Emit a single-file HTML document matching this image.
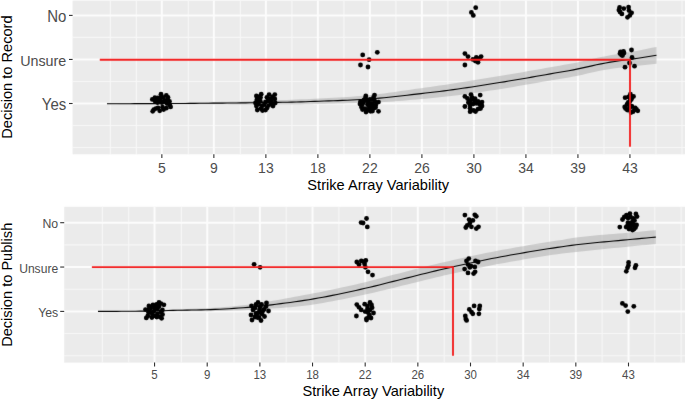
<!DOCTYPE html>
<html><head><meta charset="utf-8"><title>Decision plots</title>
<style>
html,body{margin:0;padding:0;background:#fff;}
body{width:685px;height:400px;overflow:hidden;}
svg{display:block;font-family:"Liberation Sans",sans-serif;}
</style></head><body>
<svg width="685" height="400" viewBox="0 0 685 400">
<defs><filter id="soft" x="0" y="0" width="685" height="400" filterUnits="userSpaceOnUse" color-interpolation-filters="sRGB"><feConvolveMatrix order="3" kernelMatrix="0.00524 0.06192 0.00524 0.06192 0.73137 0.06192 0.00524 0.06192 0.00524" edgeMode="duplicate" preserveAlpha="false"/></filter></defs>
<rect width="685" height="400" fill="#fff"/>
<g filter="url(#soft)">
<rect x="72.6" y="0.6" width="613.4" height="153.7" fill="#EBEBEB"/>
<line x1="110.34" y1="0.6" x2="110.34" y2="154.3" stroke="#F7F7F7" stroke-width="1.1"/>
<line x1="681.95" y1="0.6" x2="681.95" y2="154.3" stroke="#F7F7F7" stroke-width="1.1"/>
<line x1="136.34" y1="0.6" x2="136.34" y2="154.3" stroke="#F7F7F7" stroke-width="1.1"/>
<line x1="188.35" y1="0.6" x2="188.35" y2="154.3" stroke="#F7F7F7" stroke-width="1.1"/>
<line x1="240.37" y1="0.6" x2="240.37" y2="154.3" stroke="#F7F7F7" stroke-width="1.1"/>
<line x1="291.88" y1="0.6" x2="291.88" y2="154.3" stroke="#F7F7F7" stroke-width="1.1"/>
<line x1="343.88" y1="0.6" x2="343.88" y2="154.3" stroke="#F7F7F7" stroke-width="1.1"/>
<line x1="395.89" y1="0.6" x2="395.89" y2="154.3" stroke="#F7F7F7" stroke-width="1.1"/>
<line x1="447.9" y1="0.6" x2="447.9" y2="154.3" stroke="#F7F7F7" stroke-width="1.1"/>
<line x1="499.91" y1="0.6" x2="499.91" y2="154.3" stroke="#F7F7F7" stroke-width="1.1"/>
<line x1="551.92" y1="0.6" x2="551.92" y2="154.3" stroke="#F7F7F7" stroke-width="1.1"/>
<line x1="603.93" y1="0.6" x2="603.93" y2="154.3" stroke="#F7F7F7" stroke-width="1.1"/>
<line x1="655.94" y1="0.6" x2="655.94" y2="154.3" stroke="#F7F7F7" stroke-width="1.1"/>
<line x1="72.6" y1="37.42" x2="686" y2="37.42" stroke="#F7F7F7" stroke-width="1.1"/>
<line x1="72.6" y1="81.47" x2="686" y2="81.47" stroke="#F7F7F7" stroke-width="1.1"/>
<line x1="72.6" y1="125.53" x2="686" y2="125.53" stroke="#F7F7F7" stroke-width="1.1"/>
<line x1="72.6" y1="147.55" x2="686" y2="147.55" stroke="#F7F7F7" stroke-width="1.1"/>
<line x1="161.85" y1="0.6" x2="161.85" y2="154.3" stroke="#FCFCFC" stroke-width="2"/>
<line x1="213.86" y1="0.6" x2="213.86" y2="154.3" stroke="#FCFCFC" stroke-width="2"/>
<line x1="265.87" y1="0.6" x2="265.87" y2="154.3" stroke="#FCFCFC" stroke-width="2"/>
<line x1="317.88" y1="0.6" x2="317.88" y2="154.3" stroke="#FCFCFC" stroke-width="2"/>
<line x1="369.89" y1="0.6" x2="369.89" y2="154.3" stroke="#FCFCFC" stroke-width="2"/>
<line x1="421.9" y1="0.6" x2="421.9" y2="154.3" stroke="#FCFCFC" stroke-width="2"/>
<line x1="473.91" y1="0.6" x2="473.91" y2="154.3" stroke="#FCFCFC" stroke-width="2"/>
<line x1="525.92" y1="0.6" x2="525.92" y2="154.3" stroke="#FCFCFC" stroke-width="2"/>
<line x1="577.93" y1="0.6" x2="577.93" y2="154.3" stroke="#FCFCFC" stroke-width="2"/>
<line x1="629.94" y1="0.6" x2="629.94" y2="154.3" stroke="#FCFCFC" stroke-width="2"/>
<line x1="72.6" y1="15.4" x2="686" y2="15.4" stroke="#FCFCFC" stroke-width="2"/>
<line x1="72.6" y1="59.45" x2="686" y2="59.45" stroke="#FCFCFC" stroke-width="2"/>
<line x1="72.6" y1="103.5" x2="686" y2="103.5" stroke="#FCFCFC" stroke-width="2"/>
<path d="M107,103.3 L111.62,103.29 L116.24,103.27 L120.85,103.25 L125.47,103.23 L130.09,103.2 L134.71,103.17 L139.32,103.13 L143.94,103.09 L148.56,103.05 L153.18,103 L157.79,102.96 L162.41,102.91 L167.03,102.85 L171.65,102.8 L176.26,102.75 L180.88,102.69 L185.5,102.61 L190.12,102.52 L194.74,102.42 L199.35,102.31 L203.97,102.22 L208.59,102.12 L213.21,102.02 L217.82,101.92 L222.44,101.82 L227.06,101.72 L231.68,101.61 L236.29,101.49 L240.91,101.38 L245.53,101.25 L250.15,101.12 L254.76,100.98 L259.38,100.84 L264,100.69 L268.62,100.55 L273.24,100.39 L277.85,100.24 L282.47,100.07 L287.09,99.91 L291.71,99.73 L296.32,99.55 L300.94,99.36 L305.56,99.14 L310.18,98.91 L314.79,98.67 L319.41,98.43 L324.03,98.21 L328.65,98.01 L333.26,97.8 L337.88,97.59 L342.5,97.35 L347.12,97.06 L351.74,96.72 L356.35,96.33 L360.97,95.91 L365.59,95.47 L370.21,94.99 L374.82,94.49 L379.44,93.96 L384.06,93.41 L388.68,92.81 L393.29,92.18 L397.91,91.52 L402.53,90.85 L407.15,90.16 L411.76,89.48 L416.38,88.81 L421,88.16 L425.62,87.52 L430.24,86.88 L434.85,86.23 L439.47,85.58 L444.09,84.9 L448.71,84.21 L453.32,83.5 L457.94,82.77 L462.56,82.03 L467.18,81.28 L471.79,80.52 L476.41,79.76 L481.03,78.99 L485.65,78.23 L490.26,77.47 L494.88,76.72 L499.5,75.98 L504.12,75.24 L508.74,74.48 L513.35,73.71 L517.97,72.92 L522.59,72.13 L527.21,71.32 L531.82,70.52 L536.44,69.71 L541.06,68.89 L545.68,68.08 L550.29,67.28 L554.91,66.47 L559.53,65.68 L564.15,64.87 L568.76,64.03 L573.38,63.14 L578,62.18 L582.62,61.17 L587.24,60.13 L591.85,59.09 L596.47,58.06 L601.09,57.08 L605.71,56.17 L610.32,55.35 L614.94,54.59 L619.56,53.84 L624.18,53.09 L628.79,52.31 L633.41,51.49 L638.03,50.63 L642.65,49.74 L647.26,48.82 L651.88,47.87 L656.5,46.9 L656.5,63.7 L651.88,64.22 L647.26,64.74 L642.65,65.26 L638.03,65.78 L633.41,66.31 L628.79,66.84 L624.18,67.32 L619.56,67.79 L614.94,68.31 L610.32,68.95 L605.71,69.73 L601.09,70.62 L596.47,71.58 L591.85,72.59 L587.24,73.62 L582.62,74.64 L578,75.64 L573.38,76.57 L568.76,77.41 L564.15,78.14 L559.53,78.88 L554.91,79.67 L550.29,80.48 L545.68,81.28 L541.06,82.09 L536.44,82.91 L531.82,83.72 L527.21,84.52 L522.59,85.33 L517.97,86.12 L513.35,86.91 L508.74,87.68 L504.12,88.44 L499.5,89.18 L494.88,89.91 L490.26,90.62 L485.65,91.32 L481.03,92 L476.41,92.67 L471.79,93.32 L467.18,93.95 L462.56,94.57 L457.94,95.17 L453.32,95.75 L448.71,96.3 L444.09,96.84 L439.47,97.36 L434.85,97.82 L430.24,98.24 L425.62,98.63 L421,99.01 L416.38,99.42 L411.76,99.83 L407.15,100.24 L402.53,100.65 L397.91,101.05 L393.29,101.43 L388.68,101.77 L384.06,102.07 L379.44,102.33 L374.82,102.53 L370.21,102.7 L365.59,102.84 L360.97,102.97 L356.35,103.1 L351.74,103.23 L347.12,103.34 L342.5,103.47 L337.88,103.58 L333.26,103.7 L328.65,103.8 L324.03,103.91 L319.41,104.01 L314.79,104.12 L310.18,104.23 L305.56,104.32 L300.94,104.39 L296.32,104.43 L291.71,104.46 L287.09,104.48 L282.47,104.5 L277.85,104.5 L273.24,104.5 L268.62,104.5 L264,104.49 L259.38,104.48 L254.76,104.46 L250.15,104.44 L245.53,104.42 L240.91,104.4 L236.29,104.39 L231.68,104.38 L227.06,104.36 L222.44,104.35 L217.82,104.33 L213.21,104.32 L208.59,104.31 L203.97,104.3 L199.35,104.3 L194.74,104.3 L190.12,104.3 L185.5,104.31 L180.88,104.3 L176.26,104.29 L171.65,104.28 L167.03,104.26 L162.41,104.25 L157.79,104.24 L153.18,104.22 L148.56,104.21 L143.94,104.19 L139.32,104.18 L134.71,104.17 L130.09,104.15 L125.47,104.14 L120.85,104.13 L116.24,104.12 L111.62,104.11 L107,104.1 Z" fill="#999999" fill-opacity="0.4"/>
<path d="M107,103.7 L111.62,103.7 L116.24,103.7 L120.85,103.69 L125.47,103.68 L130.09,103.68 L134.71,103.67 L139.32,103.66 L143.94,103.64 L148.56,103.63 L153.18,103.61 L157.79,103.6 L162.41,103.58 L167.03,103.56 L171.65,103.54 L176.26,103.52 L180.88,103.5 L185.5,103.46 L190.12,103.41 L194.74,103.36 L199.35,103.31 L203.97,103.26 L208.59,103.22 L213.21,103.17 L217.82,103.13 L222.44,103.08 L227.06,103.04 L231.68,102.99 L236.29,102.94 L240.91,102.89 L245.53,102.84 L250.15,102.78 L254.76,102.72 L259.38,102.66 L264,102.59 L268.62,102.52 L273.24,102.45 L277.85,102.37 L282.47,102.29 L287.09,102.2 L291.71,102.1 L296.32,101.99 L300.94,101.87 L305.56,101.73 L310.18,101.57 L314.79,101.39 L319.41,101.22 L324.03,101.06 L328.65,100.91 L333.26,100.75 L337.88,100.59 L342.5,100.41 L347.12,100.2 L351.74,99.97 L356.35,99.72 L360.97,99.44 L365.59,99.15 L370.21,98.84 L374.82,98.51 L379.44,98.15 L384.06,97.74 L388.68,97.29 L393.29,96.8 L397.91,96.29 L402.53,95.75 L407.15,95.2 L411.76,94.66 L416.38,94.11 L421,93.59 L425.62,93.07 L430.24,92.56 L434.85,92.03 L439.47,91.47 L444.09,90.87 L448.71,90.26 L453.32,89.62 L457.94,88.97 L462.56,88.3 L467.18,87.62 L471.79,86.92 L476.41,86.21 L481.03,85.5 L485.65,84.77 L490.26,84.05 L494.88,83.31 L499.5,82.58 L504.12,81.84 L508.74,81.08 L513.35,80.31 L517.97,79.52 L522.59,78.73 L527.21,77.92 L531.82,77.12 L536.44,76.31 L541.06,75.49 L545.68,74.68 L550.29,73.88 L554.91,73.07 L559.53,72.28 L564.15,71.51 L568.76,70.72 L573.38,69.86 L578,68.91 L582.62,67.91 L587.24,66.87 L591.85,65.84 L596.47,64.82 L601.09,63.85 L605.71,62.95 L610.32,62.15 L614.94,61.45 L619.56,60.82 L624.18,60.21 L628.79,59.57 L633.41,58.9 L638.03,58.2 L642.65,57.5 L647.26,56.78 L651.88,56.05 L656.5,55.3" fill="none" stroke="#000" stroke-width="1.1"/>
<circle cx="152.3" cy="99.4" r="2.4"/>
<circle cx="154.9" cy="97.7" r="2.4"/>
<circle cx="161" cy="94.2" r="2.4"/>
<circle cx="166.3" cy="95.5" r="2.4"/>
<circle cx="160.1" cy="98.1" r="2.4"/>
<circle cx="168" cy="100.8" r="2.4"/>
<circle cx="169.8" cy="105.1" r="2.4"/>
<circle cx="170.6" cy="106.9" r="2.4"/>
<circle cx="152.7" cy="111.3" r="2.4"/>
<circle cx="155.8" cy="108.6" r="2.4"/>
<circle cx="159.7" cy="110.8" r="2.4"/>
<circle cx="163.6" cy="109.5" r="2.4"/>
<circle cx="166.3" cy="108.2" r="2.4"/>
<circle cx="161.9" cy="102.5" r="2.4"/>
<circle cx="165.4" cy="101.6" r="2.4"/>
<circle cx="157.5" cy="100.8" r="2.4"/>
<circle cx="163" cy="97.5" r="2.4"/>
<circle cx="165" cy="100.5" r="2.4"/>
<circle cx="161" cy="101.5" r="2.4"/>
<circle cx="168" cy="97.5" r="2.4"/>
<circle cx="158" cy="98" r="2.4"/>
<circle cx="157.5" cy="102.5" r="2.4"/>
<circle cx="169.5" cy="101.5" r="2.4"/>
<circle cx="167" cy="103.5" r="2.4"/>
<circle cx="155" cy="101" r="2.4"/>
<circle cx="158" cy="107.8" r="2.4"/>
<circle cx="162.5" cy="107.2" r="2.4"/>
<circle cx="153.8" cy="109.6" r="2.4"/>
<circle cx="256.4" cy="96" r="2.4"/>
<circle cx="261.2" cy="94.2" r="2.4"/>
<circle cx="256.8" cy="99.9" r="2.4"/>
<circle cx="260.3" cy="101.2" r="2.4"/>
<circle cx="256.4" cy="106" r="2.4"/>
<circle cx="257.3" cy="110" r="2.4"/>
<circle cx="260.8" cy="108.6" r="2.4"/>
<circle cx="264.3" cy="104.7" r="2.4"/>
<circle cx="266.9" cy="108.2" r="2.4"/>
<circle cx="269.1" cy="94.6" r="2.4"/>
<circle cx="266.9" cy="97.3" r="2.4"/>
<circle cx="270.4" cy="99" r="2.4"/>
<circle cx="274.8" cy="94.6" r="2.4"/>
<circle cx="274.8" cy="99" r="2.4"/>
<circle cx="275.2" cy="103" r="2.4"/>
<circle cx="271.3" cy="103.8" r="2.4"/>
<circle cx="268.6" cy="105.6" r="2.4"/>
<circle cx="271.3" cy="101.2" r="2.4"/>
<circle cx="258.5" cy="97" r="2.4"/>
<circle cx="258.5" cy="104" r="2.4"/>
<circle cx="262" cy="106" r="2.4"/>
<circle cx="265.5" cy="102" r="2.4"/>
<circle cx="268" cy="101" r="2.4"/>
<circle cx="272.5" cy="97" r="2.4"/>
<circle cx="273" cy="106" r="2.4"/>
<circle cx="265.5" cy="110" r="2.4"/>
<circle cx="262.5" cy="110.5" r="2.4"/>
<circle cx="255.5" cy="103" r="2.4"/>
<circle cx="260.5" cy="97.5" r="2.4"/>
<circle cx="365.8" cy="95.9" r="2.4"/>
<circle cx="374.5" cy="95.1" r="2.4"/>
<circle cx="360.5" cy="101.6" r="2.4"/>
<circle cx="364" cy="99.9" r="2.4"/>
<circle cx="373.6" cy="99.4" r="2.4"/>
<circle cx="378.5" cy="102.1" r="2.4"/>
<circle cx="361.4" cy="106.9" r="2.4"/>
<circle cx="364.9" cy="108.6" r="2.4"/>
<circle cx="368.8" cy="106" r="2.4"/>
<circle cx="370.6" cy="111.3" r="2.4"/>
<circle cx="373.6" cy="108.2" r="2.4"/>
<circle cx="375.8" cy="105.1" r="2.4"/>
<circle cx="378.5" cy="111.3" r="2.4"/>
<circle cx="368.4" cy="102.5" r="2.4"/>
<circle cx="371.9" cy="103.4" r="2.4"/>
<circle cx="362.3" cy="104.7" r="2.4"/>
<circle cx="367.5" cy="110.4" r="2.4"/>
<circle cx="366" cy="100" r="2.4"/>
<circle cx="370" cy="99.5" r="2.4"/>
<circle cx="363.5" cy="102.5" r="2.4"/>
<circle cx="367.5" cy="104.5" r="2.4"/>
<circle cx="372" cy="106" r="2.4"/>
<circle cx="369.5" cy="108.5" r="2.4"/>
<circle cx="375" cy="101.5" r="2.4"/>
<circle cx="375.5" cy="107.5" r="2.4"/>
<circle cx="360" cy="104" r="2.4"/>
<circle cx="362.5" cy="109.5" r="2.4"/>
<circle cx="366" cy="112" r="2.4"/>
<circle cx="372.5" cy="111" r="2.4"/>
<circle cx="373.5" cy="97.5" r="2.4"/>
<circle cx="365.5" cy="98" r="2.4"/>
<circle cx="362.7" cy="54.9" r="2.4"/>
<circle cx="377.3" cy="52.3" r="2.4"/>
<circle cx="369.1" cy="59.7" r="2.4"/>
<circle cx="360.5" cy="65" r="2.4"/>
<circle cx="368" cy="67" r="2.4"/>
<circle cx="464.9" cy="96.4" r="2.4"/>
<circle cx="471" cy="94.6" r="2.4"/>
<circle cx="480.2" cy="95.1" r="2.4"/>
<circle cx="475" cy="98.6" r="2.4"/>
<circle cx="469.7" cy="101.2" r="2.4"/>
<circle cx="472.3" cy="99.4" r="2.4"/>
<circle cx="482" cy="102.1" r="2.4"/>
<circle cx="476.3" cy="103.4" r="2.4"/>
<circle cx="464.9" cy="106.5" r="2.4"/>
<circle cx="470.1" cy="108.2" r="2.4"/>
<circle cx="470.1" cy="111.7" r="2.4"/>
<circle cx="473.6" cy="110.4" r="2.4"/>
<circle cx="478" cy="109.1" r="2.4"/>
<circle cx="482" cy="106" r="2.4"/>
<circle cx="479.8" cy="104.7" r="2.4"/>
<circle cx="468.4" cy="102.5" r="2.4"/>
<circle cx="467.5" cy="98.5" r="2.4"/>
<circle cx="472" cy="97.5" r="2.4"/>
<circle cx="475" cy="101.5" r="2.4"/>
<circle cx="478" cy="101.5" r="2.4"/>
<circle cx="473" cy="104" r="2.4"/>
<circle cx="470" cy="105" r="2.4"/>
<circle cx="480.5" cy="108.5" r="2.4"/>
<circle cx="475.5" cy="111.5" r="2.4"/>
<circle cx="464.9" cy="53.6" r="2.4"/>
<circle cx="468" cy="56.6" r="2.4"/>
<circle cx="464.9" cy="65" r="2.4"/>
<circle cx="472.9" cy="59.4" r="2.4"/>
<circle cx="476.3" cy="57.5" r="2.4"/>
<circle cx="481.1" cy="56.6" r="2.4"/>
<circle cx="478" cy="62.3" r="2.4"/>
<circle cx="475.4" cy="61" r="2.4"/>
<circle cx="479.3" cy="58.4" r="2.4"/>
<circle cx="475.7" cy="7.7" r="2.4"/>
<circle cx="471.4" cy="12.4" r="2.4"/>
<circle cx="473.3" cy="15.4" r="2.4"/>
<circle cx="625.1" cy="97.7" r="2.4"/>
<circle cx="630.4" cy="94.2" r="2.4"/>
<circle cx="633.5" cy="96.4" r="2.4"/>
<circle cx="631.3" cy="99.4" r="2.4"/>
<circle cx="628.2" cy="102.5" r="2.4"/>
<circle cx="624.7" cy="106.9" r="2.4"/>
<circle cx="627.3" cy="110" r="2.4"/>
<circle cx="635.2" cy="107.8" r="2.4"/>
<circle cx="633" cy="111.7" r="2.4"/>
<circle cx="637.8" cy="110.8" r="2.4"/>
<circle cx="630.4" cy="105.6" r="2.4"/>
<circle cx="632" cy="97.5" r="2.4"/>
<circle cx="630" cy="101" r="2.4"/>
<circle cx="627" cy="104.5" r="2.4"/>
<circle cx="629.5" cy="108" r="2.4"/>
<circle cx="632" cy="106.5" r="2.4"/>
<circle cx="634.5" cy="110" r="2.4"/>
<circle cx="625.5" cy="108.5" r="2.4"/>
<circle cx="636.5" cy="109.5" r="2.4"/>
<circle cx="631" cy="112.5" r="2.4"/>
<circle cx="628.5" cy="97" r="2.4"/>
<circle cx="622" cy="53" r="2.4"/>
<circle cx="620" cy="53.5" r="2.4"/>
<circle cx="624" cy="53" r="2.4"/>
<circle cx="631.5" cy="50" r="2.4"/>
<circle cx="632" cy="57.5" r="2.4"/>
<circle cx="629.5" cy="63" r="2.4"/>
<circle cx="625" cy="67.2" r="2.4"/>
<circle cx="634.5" cy="66.2" r="2.4"/>
<circle cx="621.5" cy="55" r="2.4"/>
<circle cx="622.5" cy="55.5" r="2.4"/>
<circle cx="620.5" cy="51.8" r="2.4"/>
<circle cx="623.5" cy="51.5" r="2.4"/>
<circle cx="619.6" cy="7.4" r="2.4"/>
<circle cx="618.9" cy="10.1" r="2.4"/>
<circle cx="621.9" cy="13.9" r="2.4"/>
<circle cx="623.8" cy="8.6" r="2.4"/>
<circle cx="628.6" cy="7.1" r="2.4"/>
<circle cx="629" cy="10.5" r="2.4"/>
<circle cx="631.6" cy="12.8" r="2.4"/>
<circle cx="627.5" cy="17.3" r="2.4"/>
<circle cx="629.8" cy="15.4" r="2.4"/>
<circle cx="620" cy="12" r="2.4"/>
<polyline points="99.8,59.7 630,59.7 630,146.8" fill="none" stroke="#F21C1C" stroke-width="1.85"/>
</g>
<line x1="161.85" y1="154.3" x2="161.85" y2="158.1" stroke="#333" stroke-width="1.1"/>
<line x1="213.86" y1="154.3" x2="213.86" y2="158.1" stroke="#333" stroke-width="1.1"/>
<line x1="265.87" y1="154.3" x2="265.87" y2="158.1" stroke="#333" stroke-width="1.1"/>
<line x1="317.88" y1="154.3" x2="317.88" y2="158.1" stroke="#333" stroke-width="1.1"/>
<line x1="369.89" y1="154.3" x2="369.89" y2="158.1" stroke="#333" stroke-width="1.1"/>
<line x1="421.9" y1="154.3" x2="421.9" y2="158.1" stroke="#333" stroke-width="1.1"/>
<line x1="473.91" y1="154.3" x2="473.91" y2="158.1" stroke="#333" stroke-width="1.1"/>
<line x1="525.92" y1="154.3" x2="525.92" y2="158.1" stroke="#333" stroke-width="1.1"/>
<line x1="577.93" y1="154.3" x2="577.93" y2="158.1" stroke="#333" stroke-width="1.1"/>
<line x1="629.94" y1="154.3" x2="629.94" y2="158.1" stroke="#333" stroke-width="1.1"/>
<line x1="69" y1="15.4" x2="72.6" y2="15.4" stroke="#333" stroke-width="1.1"/>
<line x1="69" y1="59.45" x2="72.6" y2="59.45" stroke="#333" stroke-width="1.1"/>
<line x1="69" y1="103.5" x2="72.6" y2="103.5" stroke="#333" stroke-width="1.1"/>
<text transform="translate(161.85,172.9) scale(1,1.065)" font-size="14" fill="#4D4D4D" text-anchor="middle">5</text>
<text transform="translate(213.86,172.9) scale(1,1.065)" font-size="14" fill="#4D4D4D" text-anchor="middle">9</text>
<text transform="translate(265.87,172.9) scale(1,1.065)" font-size="14" fill="#4D4D4D" text-anchor="middle">13</text>
<text transform="translate(317.88,172.9) scale(1,1.065)" font-size="14" fill="#4D4D4D" text-anchor="middle">18</text>
<text transform="translate(369.89,172.9) scale(1,1.065)" font-size="14" fill="#4D4D4D" text-anchor="middle">22</text>
<text transform="translate(421.9,172.9) scale(1,1.065)" font-size="14" fill="#4D4D4D" text-anchor="middle">26</text>
<text transform="translate(473.91,172.9) scale(1,1.065)" font-size="14" fill="#4D4D4D" text-anchor="middle">30</text>
<text transform="translate(525.92,172.9) scale(1,1.065)" font-size="14" fill="#4D4D4D" text-anchor="middle">34</text>
<text transform="translate(577.93,172.9) scale(1,1.065)" font-size="14" fill="#4D4D4D" text-anchor="middle">39</text>
<text transform="translate(629.94,172.9) scale(1,1.065)" font-size="14" fill="#4D4D4D" text-anchor="middle">43</text>
<text transform="translate(66.3,21.8) scale(1,1.06)" font-size="15" fill="#4D4D4D" text-anchor="end">No</text>
<text transform="translate(66.3,65.85) scale(1,1.06)" font-size="14.32" fill="#4D4D4D" text-anchor="end">Unsure</text>
<text transform="translate(66.3,109.9) scale(1,1.06)" font-size="15" fill="#4D4D4D" text-anchor="end">Yes</text>
<text x="378.2" y="189.7" font-size="14.6" fill="#000" text-anchor="middle">Strike Array Variability</text>
<text transform="translate(12.35,77.1) rotate(-90)" x="0" y="0" font-size="14.6" fill="#000" text-anchor="middle">Decision to Record</text>
<g filter="url(#soft)">
<rect x="64.2" y="206.8" width="621.8" height="155.8" fill="#EBEBEB"/>
<line x1="102.39" y1="206.8" x2="102.39" y2="362.6" stroke="#F7F7F7" stroke-width="1.1"/>
<line x1="681.15" y1="206.8" x2="681.15" y2="362.6" stroke="#F7F7F7" stroke-width="1.1"/>
<line x1="128.72" y1="206.8" x2="128.72" y2="362.6" stroke="#F7F7F7" stroke-width="1.1"/>
<line x1="181.38" y1="206.8" x2="181.38" y2="362.6" stroke="#F7F7F7" stroke-width="1.1"/>
<line x1="234.04" y1="206.8" x2="234.04" y2="362.6" stroke="#F7F7F7" stroke-width="1.1"/>
<line x1="286.2" y1="206.8" x2="286.2" y2="362.6" stroke="#F7F7F7" stroke-width="1.1"/>
<line x1="338.86" y1="206.8" x2="338.86" y2="362.6" stroke="#F7F7F7" stroke-width="1.1"/>
<line x1="391.52" y1="206.8" x2="391.52" y2="362.6" stroke="#F7F7F7" stroke-width="1.1"/>
<line x1="444.18" y1="206.8" x2="444.18" y2="362.6" stroke="#F7F7F7" stroke-width="1.1"/>
<line x1="496.84" y1="206.8" x2="496.84" y2="362.6" stroke="#F7F7F7" stroke-width="1.1"/>
<line x1="549.5" y1="206.8" x2="549.5" y2="362.6" stroke="#F7F7F7" stroke-width="1.1"/>
<line x1="602.16" y1="206.8" x2="602.16" y2="362.6" stroke="#F7F7F7" stroke-width="1.1"/>
<line x1="654.82" y1="206.8" x2="654.82" y2="362.6" stroke="#F7F7F7" stroke-width="1.1"/>
<line x1="64.2" y1="244.88" x2="686" y2="244.88" stroke="#F7F7F7" stroke-width="1.1"/>
<line x1="64.2" y1="289.23" x2="686" y2="289.23" stroke="#F7F7F7" stroke-width="1.1"/>
<line x1="64.2" y1="333.57" x2="686" y2="333.57" stroke="#F7F7F7" stroke-width="1.1"/>
<line x1="64.2" y1="355.75" x2="686" y2="355.75" stroke="#F7F7F7" stroke-width="1.1"/>
<line x1="154.55" y1="206.8" x2="154.55" y2="362.6" stroke="#FCFCFC" stroke-width="2"/>
<line x1="207.21" y1="206.8" x2="207.21" y2="362.6" stroke="#FCFCFC" stroke-width="2"/>
<line x1="259.87" y1="206.8" x2="259.87" y2="362.6" stroke="#FCFCFC" stroke-width="2"/>
<line x1="312.53" y1="206.8" x2="312.53" y2="362.6" stroke="#FCFCFC" stroke-width="2"/>
<line x1="365.19" y1="206.8" x2="365.19" y2="362.6" stroke="#FCFCFC" stroke-width="2"/>
<line x1="417.85" y1="206.8" x2="417.85" y2="362.6" stroke="#FCFCFC" stroke-width="2"/>
<line x1="470.51" y1="206.8" x2="470.51" y2="362.6" stroke="#FCFCFC" stroke-width="2"/>
<line x1="523.17" y1="206.8" x2="523.17" y2="362.6" stroke="#FCFCFC" stroke-width="2"/>
<line x1="575.83" y1="206.8" x2="575.83" y2="362.6" stroke="#FCFCFC" stroke-width="2"/>
<line x1="628.49" y1="206.8" x2="628.49" y2="362.6" stroke="#FCFCFC" stroke-width="2"/>
<line x1="64.2" y1="222.7" x2="686" y2="222.7" stroke="#FCFCFC" stroke-width="2"/>
<line x1="64.2" y1="267.05" x2="686" y2="267.05" stroke="#FCFCFC" stroke-width="2"/>
<line x1="64.2" y1="311.4" x2="686" y2="311.4" stroke="#FCFCFC" stroke-width="2"/>
<path d="M98,311.1 L102.69,311.1 L107.37,311.08 L112.06,311.06 L116.75,311.03 L121.44,310.99 L126.12,310.94 L130.81,310.89 L135.5,310.82 L140.19,310.75 L144.87,310.67 L149.56,310.59 L154.25,310.49 L158.94,310.3 L163.62,309.99 L168.31,309.69 L173,309.46 L177.69,309.27 L182.37,309.1 L187.06,308.93 L191.75,308.77 L196.44,308.6 L201.12,308.42 L205.81,308.21 L210.5,307.97 L215.18,307.69 L219.87,307.38 L224.56,307.02 L229.25,306.63 L233.93,306.2 L238.62,305.74 L243.31,305.25 L248,304.73 L252.68,304.16 L257.37,303.46 L262.06,302.68 L266.75,301.86 L271.43,301.06 L276.12,300.24 L280.81,299.41 L285.5,298.55 L290.18,297.68 L294.87,296.81 L299.56,295.93 L304.25,295.06 L308.93,294.19 L313.62,293.33 L318.31,292.44 L322.99,291.52 L327.68,290.57 L332.37,289.6 L337.06,288.6 L341.74,287.57 L346.43,286.53 L351.12,285.46 L355.81,284.38 L360.49,283.28 L365.18,282.16 L369.87,281.03 L374.56,279.85 L379.24,278.59 L383.93,277.3 L388.62,276.05 L393.31,274.86 L397.99,273.66 L402.68,272.46 L407.37,271.26 L412.06,270.06 L416.74,268.86 L421.43,267.68 L426.12,266.5 L430.81,265.34 L435.49,264.2 L440.18,263.08 L444.87,261.97 L449.55,260.9 L454.24,259.85 L458.93,258.8 L463.62,257.76 L468.3,256.74 L472.99,255.73 L477.68,254.74 L482.37,253.77 L487.05,252.81 L491.74,251.88 L496.43,250.97 L501.12,250.09 L505.8,249.23 L510.49,248.38 L515.18,247.54 L519.87,246.72 L524.55,245.9 L529.24,245.11 L533.93,244.32 L538.62,243.55 L543.3,242.79 L547.99,242.05 L552.68,241.32 L557.36,240.6 L562.05,239.88 L566.74,239.08 L571.43,238.27 L576.11,237.51 L580.8,236.91 L585.49,236.4 L590.18,235.93 L594.86,235.49 L599.55,235.08 L604.24,234.68 L608.93,234.3 L613.61,233.92 L618.3,233.53 L622.99,233.14 L627.68,232.73 L632.36,232.31 L637.05,231.89 L641.74,231.46 L646.43,231.04 L651.11,230.62 L655.8,230.2 L655.8,244 L651.11,244.45 L646.43,244.9 L641.74,245.35 L637.05,245.81 L632.36,246.27 L627.68,246.73 L622.99,247.19 L618.3,247.65 L613.61,248.11 L608.93,248.57 L604.24,249.03 L599.55,249.5 L594.86,249.98 L590.18,250.48 L585.49,250.98 L580.8,251.51 L576.11,252.02 L571.43,252.49 L566.74,252.97 L562.05,253.52 L557.36,254.18 L552.68,254.87 L547.99,255.57 L543.3,256.29 L538.62,257.03 L533.93,257.78 L529.24,258.55 L524.55,259.33 L519.87,260.13 L515.18,260.95 L510.49,261.78 L505.8,262.63 L501.12,263.49 L496.43,264.37 L491.74,265.28 L487.05,266.21 L482.37,267.17 L477.68,268.14 L472.99,269.13 L468.3,270.14 L463.62,271.16 L458.93,272.2 L454.24,273.25 L449.55,274.3 L444.87,275.37 L440.18,276.46 L435.49,277.57 L430.81,278.7 L426.12,279.83 L421.43,280.98 L416.74,282.13 L412.06,283.29 L407.37,284.44 L402.68,285.6 L397.99,286.75 L393.31,287.9 L388.62,289.03 L383.93,290.17 L379.24,291.3 L374.56,292.39 L369.87,293.43 L365.18,294.44 L360.49,295.45 L355.81,296.46 L351.12,297.45 L346.43,298.43 L341.74,299.39 L337.06,300.33 L332.37,301.23 L327.68,302.1 L322.99,302.94 L318.31,303.73 L313.62,304.47 L308.93,305.15 L304.25,305.76 L299.56,306.29 L294.87,306.76 L290.18,307.18 L285.5,307.57 L280.81,307.92 L276.12,308.26 L271.43,308.6 L266.75,308.93 L262.06,309.25 L257.37,309.53 L252.68,309.78 L248,309.99 L243.31,310.19 L238.62,310.38 L233.93,310.57 L229.25,310.74 L224.56,310.89 L219.87,311.02 L215.18,311.12 L210.5,311.19 L205.81,311.24 L201.12,311.28 L196.44,311.3 L191.75,311.32 L187.06,311.34 L182.37,311.35 L177.69,311.37 L173,311.38 L168.31,311.41 L163.62,311.44 L158.94,311.47 L154.25,311.5 L149.56,311.53 L144.87,311.55 L140.19,311.58 L135.5,311.6 L130.81,311.62 L126.12,311.64 L121.44,311.66 L116.75,311.67 L112.06,311.68 L107.37,311.69 L102.69,311.7 L98,311.7 Z" fill="#999999" fill-opacity="0.4"/>
<path d="M98,311.4 L102.69,311.4 L107.37,311.39 L112.06,311.37 L116.75,311.35 L121.44,311.32 L126.12,311.29 L130.81,311.25 L135.5,311.21 L140.19,311.16 L144.87,311.11 L149.56,311.06 L154.25,311 L158.94,310.88 L163.62,310.72 L168.31,310.55 L173,310.42 L177.69,310.32 L182.37,310.22 L187.06,310.13 L191.75,310.05 L196.44,309.95 L201.12,309.85 L205.81,309.73 L210.5,309.58 L215.18,309.41 L219.87,309.2 L224.56,308.96 L229.25,308.68 L233.93,308.39 L238.62,308.06 L243.31,307.72 L248,307.36 L252.68,306.97 L257.37,306.49 L262.06,305.96 L266.75,305.4 L271.43,304.83 L276.12,304.25 L280.81,303.66 L285.5,303.06 L290.18,302.43 L294.87,301.79 L299.56,301.11 L304.25,300.41 L308.93,299.67 L313.62,298.9 L318.31,298.08 L322.99,297.23 L327.68,296.34 L332.37,295.41 L337.06,294.46 L341.74,293.48 L346.43,292.48 L351.12,291.46 L355.81,290.42 L360.49,289.36 L365.18,288.3 L369.87,287.23 L374.56,286.12 L379.24,284.94 L383.93,283.74 L388.62,282.54 L393.31,281.38 L397.99,280.21 L402.68,279.03 L407.37,277.85 L412.06,276.67 L416.74,275.5 L421.43,274.33 L426.12,273.17 L430.81,272.02 L435.49,270.89 L440.18,269.77 L444.87,268.67 L449.55,267.6 L454.24,266.55 L458.93,265.5 L463.62,264.46 L468.3,263.44 L472.99,262.43 L477.68,261.44 L482.37,260.47 L487.05,259.51 L491.74,258.58 L496.43,257.67 L501.12,256.79 L505.8,255.93 L510.49,255.08 L515.18,254.24 L519.87,253.42 L524.55,252.62 L529.24,251.83 L533.93,251.05 L538.62,250.29 L543.3,249.54 L547.99,248.81 L552.68,248.09 L557.36,247.39 L562.05,246.7 L566.74,246.03 L571.43,245.38 L576.11,244.77 L580.8,244.21 L585.49,243.69 L590.18,243.2 L594.86,242.74 L599.55,242.29 L604.24,241.86 L608.93,241.43 L613.61,241.01 L618.3,240.59 L622.99,240.17 L627.68,239.73 L632.36,239.29 L637.05,238.85 L641.74,238.41 L646.43,237.97 L651.11,237.53 L655.8,237.1" fill="none" stroke="#000" stroke-width="1.1"/>
<circle cx="159" cy="302.5" r="2.4"/>
<circle cx="160.9" cy="303.6" r="2.4"/>
<circle cx="163.9" cy="304.8" r="2.4"/>
<circle cx="148.9" cy="305.9" r="2.4"/>
<circle cx="145.5" cy="309.6" r="2.4"/>
<circle cx="150.8" cy="308.1" r="2.4"/>
<circle cx="154.9" cy="307.8" r="2.4"/>
<circle cx="157.5" cy="308.9" r="2.4"/>
<circle cx="162.4" cy="310" r="2.4"/>
<circle cx="160.9" cy="311.9" r="2.4"/>
<circle cx="151.1" cy="312.3" r="2.4"/>
<circle cx="154.1" cy="311.1" r="2.4"/>
<circle cx="146.3" cy="317.9" r="2.4"/>
<circle cx="147.8" cy="316" r="2.4"/>
<circle cx="151.9" cy="317.5" r="2.4"/>
<circle cx="156.8" cy="317.1" r="2.4"/>
<circle cx="161.6" cy="318.3" r="2.4"/>
<circle cx="159.8" cy="316.8" r="2.4"/>
<circle cx="153" cy="305" r="2.4"/>
<circle cx="156.5" cy="304.5" r="2.4"/>
<circle cx="159" cy="306.5" r="2.4"/>
<circle cx="148.5" cy="312.5" r="2.4"/>
<circle cx="152.5" cy="314.5" r="2.4"/>
<circle cx="157.5" cy="314" r="2.4"/>
<circle cx="162.5" cy="314.5" r="2.4"/>
<circle cx="149" cy="309.5" r="2.4"/>
<circle cx="155.5" cy="316" r="2.4"/>
<circle cx="251.5" cy="306" r="2.4"/>
<circle cx="258" cy="302.5" r="2.4"/>
<circle cx="266.5" cy="303" r="2.4"/>
<circle cx="260" cy="307" r="2.4"/>
<circle cx="253" cy="310" r="2.4"/>
<circle cx="264" cy="309.5" r="2.4"/>
<circle cx="268.5" cy="311" r="2.4"/>
<circle cx="251" cy="315" r="2.4"/>
<circle cx="258" cy="313" r="2.4"/>
<circle cx="262" cy="314" r="2.4"/>
<circle cx="264.5" cy="316.5" r="2.4"/>
<circle cx="252" cy="320" r="2.4"/>
<circle cx="257.5" cy="317.5" r="2.4"/>
<circle cx="261" cy="320.5" r="2.4"/>
<circle cx="256" cy="304.5" r="2.4"/>
<circle cx="255" cy="308" r="2.4"/>
<circle cx="259.5" cy="310" r="2.4"/>
<circle cx="256" cy="313.5" r="2.4"/>
<circle cx="262.5" cy="311.5" r="2.4"/>
<circle cx="266" cy="306.5" r="2.4"/>
<circle cx="261.5" cy="304.5" r="2.4"/>
<circle cx="259" cy="317.5" r="2.4"/>
<circle cx="255" cy="317" r="2.4"/>
<circle cx="254.1" cy="264.3" r="2.4"/>
<circle cx="260.1" cy="267.3" r="2.4"/>
<circle cx="356.8" cy="304.6" r="2.4"/>
<circle cx="359" cy="307.3" r="2.4"/>
<circle cx="361.2" cy="309.9" r="2.4"/>
<circle cx="356.4" cy="316" r="2.4"/>
<circle cx="364.7" cy="304.2" r="2.4"/>
<circle cx="370" cy="302.4" r="2.4"/>
<circle cx="372.1" cy="307.7" r="2.4"/>
<circle cx="370" cy="309.9" r="2.4"/>
<circle cx="373.5" cy="313" r="2.4"/>
<circle cx="369.5" cy="315.1" r="2.4"/>
<circle cx="366.5" cy="318.6" r="2.4"/>
<circle cx="366.5" cy="320" r="2.4"/>
<circle cx="368.6" cy="317.3" r="2.4"/>
<circle cx="365.1" cy="311.6" r="2.4"/>
<circle cx="367.5" cy="306" r="2.4"/>
<circle cx="371.5" cy="305" r="2.4"/>
<circle cx="368" cy="312.5" r="2.4"/>
<circle cx="371" cy="318" r="2.4"/>
<circle cx="367.5" cy="309" r="2.4"/>
<circle cx="366.5" cy="218.5" r="2.4"/>
<circle cx="361.1" cy="222.6" r="2.4"/>
<circle cx="363.1" cy="223" r="2.4"/>
<circle cx="367.3" cy="226.9" r="2.4"/>
<circle cx="356.8" cy="262" r="2.4"/>
<circle cx="359" cy="264.6" r="2.4"/>
<circle cx="361.3" cy="260.9" r="2.4"/>
<circle cx="365.8" cy="260.5" r="2.4"/>
<circle cx="364.6" cy="263.9" r="2.4"/>
<circle cx="365.4" cy="267.3" r="2.4"/>
<circle cx="368" cy="271.8" r="2.4"/>
<circle cx="372.5" cy="275.1" r="2.4"/>
<circle cx="363.5" cy="261.6" r="2.4"/>
<circle cx="464.9" cy="215.1" r="2.4"/>
<circle cx="474.8" cy="214.8" r="2.4"/>
<circle cx="476.3" cy="216.3" r="2.4"/>
<circle cx="469.1" cy="219.6" r="2.4"/>
<circle cx="472.9" cy="220.4" r="2.4"/>
<circle cx="469.9" cy="223" r="2.4"/>
<circle cx="465.8" cy="227.5" r="2.4"/>
<circle cx="471.4" cy="226.8" r="2.4"/>
<circle cx="476.3" cy="228.6" r="2.4"/>
<circle cx="478.5" cy="226.8" r="2.4"/>
<circle cx="467.3" cy="225.3" r="2.4"/>
<circle cx="468.8" cy="258.6" r="2.4"/>
<circle cx="466.5" cy="260.9" r="2.4"/>
<circle cx="475.5" cy="260.9" r="2.4"/>
<circle cx="478.1" cy="262" r="2.4"/>
<circle cx="468" cy="264.6" r="2.4"/>
<circle cx="471" cy="266.1" r="2.4"/>
<circle cx="474.8" cy="266.9" r="2.4"/>
<circle cx="464.6" cy="269.1" r="2.4"/>
<circle cx="468" cy="272.9" r="2.4"/>
<circle cx="473.6" cy="273.6" r="2.4"/>
<circle cx="475.1" cy="271.8" r="2.4"/>
<circle cx="469.9" cy="267.3" r="2.4"/>
<circle cx="474.1" cy="305.9" r="2.4"/>
<circle cx="479.8" cy="305.9" r="2.4"/>
<circle cx="479.3" cy="309" r="2.4"/>
<circle cx="469.3" cy="309.4" r="2.4"/>
<circle cx="471.5" cy="312.1" r="2.4"/>
<circle cx="472.8" cy="313.8" r="2.4"/>
<circle cx="478.9" cy="313.8" r="2.4"/>
<circle cx="465.3" cy="316" r="2.4"/>
<circle cx="465.8" cy="319.1" r="2.4"/>
<circle cx="466.6" cy="320.4" r="2.4"/>
<circle cx="624.3" cy="217" r="2.4"/>
<circle cx="626.5" cy="215.1" r="2.4"/>
<circle cx="629.9" cy="213.6" r="2.4"/>
<circle cx="635.9" cy="214" r="2.4"/>
<circle cx="637" cy="216.6" r="2.4"/>
<circle cx="633.3" cy="218.5" r="2.4"/>
<circle cx="628" cy="222.6" r="2.4"/>
<circle cx="636.6" cy="224.9" r="2.4"/>
<circle cx="619.8" cy="227.1" r="2.4"/>
<circle cx="626.1" cy="227.1" r="2.4"/>
<circle cx="632.5" cy="230.1" r="2.4"/>
<circle cx="635.5" cy="227.5" r="2.4"/>
<circle cx="630.3" cy="226.8" r="2.4"/>
<circle cx="632.5" cy="221.5" r="2.4"/>
<circle cx="628" cy="218" r="2.4"/>
<circle cx="630.5" cy="217" r="2.4"/>
<circle cx="634.5" cy="220.5" r="2.4"/>
<circle cx="630" cy="223.5" r="2.4"/>
<circle cx="627.5" cy="225.5" r="2.4"/>
<circle cx="633.5" cy="225" r="2.4"/>
<circle cx="629" cy="229" r="2.4"/>
<circle cx="634" cy="229" r="2.4"/>
<circle cx="622.5" cy="219.5" r="2.4"/>
<circle cx="628.6" cy="262.5" r="2.4"/>
<circle cx="628.4" cy="265.6" r="2.4"/>
<circle cx="627.5" cy="267.8" r="2.4"/>
<circle cx="626.3" cy="271.3" r="2.4"/>
<circle cx="635.9" cy="265.3" r="2.4"/>
<circle cx="635" cy="267.8" r="2.4"/>
<circle cx="622.4" cy="303.4" r="2.4"/>
<circle cx="625.6" cy="305.6" r="2.4"/>
<circle cx="627.8" cy="311.6" r="2.4"/>
<circle cx="633.8" cy="306.3" r="2.4"/>
<polyline points="91.9,267.1 453,267.1 453,355.8" fill="none" stroke="#F21C1C" stroke-width="1.85"/>
</g>
<line x1="154.55" y1="362.6" x2="154.55" y2="366.4" stroke="#333" stroke-width="1.1"/>
<line x1="207.21" y1="362.6" x2="207.21" y2="366.4" stroke="#333" stroke-width="1.1"/>
<line x1="259.87" y1="362.6" x2="259.87" y2="366.4" stroke="#333" stroke-width="1.1"/>
<line x1="312.53" y1="362.6" x2="312.53" y2="366.4" stroke="#333" stroke-width="1.1"/>
<line x1="365.19" y1="362.6" x2="365.19" y2="366.4" stroke="#333" stroke-width="1.1"/>
<line x1="417.85" y1="362.6" x2="417.85" y2="366.4" stroke="#333" stroke-width="1.1"/>
<line x1="470.51" y1="362.6" x2="470.51" y2="366.4" stroke="#333" stroke-width="1.1"/>
<line x1="523.17" y1="362.6" x2="523.17" y2="366.4" stroke="#333" stroke-width="1.1"/>
<line x1="575.83" y1="362.6" x2="575.83" y2="366.4" stroke="#333" stroke-width="1.1"/>
<line x1="628.49" y1="362.6" x2="628.49" y2="366.4" stroke="#333" stroke-width="1.1"/>
<line x1="60.2" y1="222.7" x2="64.2" y2="222.7" stroke="#333" stroke-width="1.1"/>
<line x1="60.2" y1="267.05" x2="64.2" y2="267.05" stroke="#333" stroke-width="1.1"/>
<line x1="60.2" y1="311.4" x2="64.2" y2="311.4" stroke="#333" stroke-width="1.1"/>
<text transform="translate(154.55,379.2) scale(1,1.065)" font-size="11.5" fill="#4D4D4D" text-anchor="middle">5</text>
<text transform="translate(207.21,379.2) scale(1,1.065)" font-size="11.5" fill="#4D4D4D" text-anchor="middle">9</text>
<text transform="translate(259.87,379.2) scale(1,1.065)" font-size="11.5" fill="#4D4D4D" text-anchor="middle">13</text>
<text transform="translate(312.53,379.2) scale(1,1.065)" font-size="11.5" fill="#4D4D4D" text-anchor="middle">18</text>
<text transform="translate(365.19,379.2) scale(1,1.065)" font-size="11.5" fill="#4D4D4D" text-anchor="middle">22</text>
<text transform="translate(417.85,379.2) scale(1,1.065)" font-size="11.5" fill="#4D4D4D" text-anchor="middle">26</text>
<text transform="translate(470.51,379.2) scale(1,1.065)" font-size="11.5" fill="#4D4D4D" text-anchor="middle">30</text>
<text transform="translate(523.17,379.2) scale(1,1.065)" font-size="11.5" fill="#4D4D4D" text-anchor="middle">34</text>
<text transform="translate(575.83,379.2) scale(1,1.065)" font-size="11.5" fill="#4D4D4D" text-anchor="middle">39</text>
<text transform="translate(628.49,379.2) scale(1,1.065)" font-size="11.5" fill="#4D4D4D" text-anchor="middle">43</text>
<text transform="translate(58.2,228.33) scale(1,1.03)" font-size="12.3" fill="#4D4D4D" text-anchor="end">No</text>
<text transform="translate(58.2,272.68) scale(1,1.03)" font-size="12.12" fill="#4D4D4D" text-anchor="end">Unsure</text>
<text transform="translate(58.2,317.03) scale(1,1.03)" font-size="12.3" fill="#4D4D4D" text-anchor="end">Yes</text>
<text x="373.4" y="396" font-size="14.6" fill="#000" text-anchor="middle">Strike Array Variability</text>
<text transform="translate(12.35,284.8) rotate(-90)" x="0" y="0" font-size="14.6" fill="#000" text-anchor="middle">Decision to Publish</text>
</svg>
</body></html>
